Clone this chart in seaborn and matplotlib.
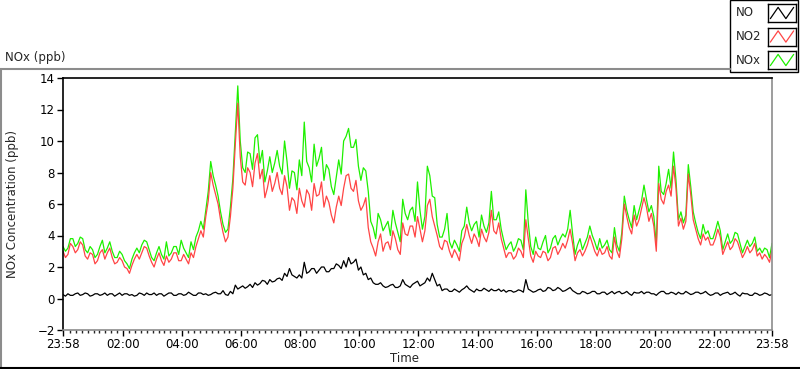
import numpy as np
import pandas as pd
import matplotlib
matplotlib.use("Agg")
import matplotlib.pyplot as plt
from matplotlib.lines import Line2D
from matplotlib.patches import Rectangle
import seaborn as sns

# readings every 5 minutes, starting 23:58
no = [0.25, 0.15, 0.3, 0.2, 0.2, 0.3, 0.35, 0.2, 0.25, 0.35, 0.3, 0.15, 0.2, 0.3, 0.3, 0.2,
      0.25, 0.35, 0.2, 0.3, 0.3, 0.15, 0.25, 0.35, 0.2, 0.3, 0.3, 0.2, 0.25, 0.15, 0.2, 0.35,
      0.3, 0.2, 0.35, 0.25, 0.25, 0.35, 0.2, 0.3, 0.3, 0.15, 0.25, 0.35, 0.35, 0.2, 0.2, 0.3,
      0.3, 0.2, 0.25, 0.4, 0.3, 0.2, 0.2, 0.35, 0.35, 0.25, 0.3, 0.2, 0.25, 0.35, 0.4, 0.3,
      0.3, 0.5, 0.25, 0.2, 0.45, 0.3, 0.85, 0.6, 0.7, 0.8, 0.65, 0.75, 0.9, 0.7, 1.0, 0.85,
      0.95, 1.15, 1.1, 0.9, 1.2, 1.05, 1.1, 1.25, 1.3, 1.15, 1.6, 1.4, 1.9, 1.5, 1.4, 1.3,
      1.5, 1.3, 2.3, 1.6, 1.7, 1.9, 1.9, 1.6, 1.8, 2.0, 2.0, 1.7, 1.7, 1.9, 1.9, 2.2,
      2.1, 1.9, 2.4, 2.0, 2.6, 2.2, 2.3, 2.5, 1.8, 2.0, 1.5, 1.6, 1.2, 1.3, 1.0, 0.9,
      0.9, 1.0, 0.8, 0.7, 0.75, 0.85, 0.9, 0.7, 0.7, 0.8, 1.2, 0.9, 0.8, 0.7, 0.9, 1.0,
      1.1, 0.8, 0.9, 1.0, 1.3, 1.1, 1.6, 1.2, 0.8, 0.9, 0.5, 0.6, 0.6, 0.45, 0.45, 0.6,
      0.5, 0.4, 0.55, 0.65, 0.8, 0.6, 0.5, 0.4, 0.6, 0.5, 0.5, 0.65, 0.55, 0.45, 0.6, 0.5,
      0.5, 0.6, 0.45, 0.55, 0.4, 0.5, 0.5, 0.4, 0.45, 0.55, 0.5, 0.4, 1.2, 0.6, 0.5, 0.4,
      0.45, 0.55, 0.6, 0.45, 0.5, 0.7, 0.65, 0.5, 0.55, 0.7, 0.6, 0.45, 0.5, 0.6, 0.7, 0.5,
      0.4, 0.3, 0.3, 0.45, 0.4, 0.3, 0.35, 0.45, 0.45, 0.3, 0.3, 0.4, 0.4, 0.25, 0.35, 0.45,
      0.3, 0.4, 0.45, 0.3, 0.35, 0.45, 0.3, 0.2, 0.4, 0.35, 0.35, 0.45, 0.3, 0.4, 0.4, 0.3,
      0.3, 0.2, 0.35, 0.45, 0.45, 0.3, 0.3, 0.4, 0.35, 0.25, 0.4, 0.3, 0.3, 0.45, 0.35, 0.25,
      0.3, 0.4, 0.4, 0.3, 0.35, 0.45, 0.3, 0.2, 0.25, 0.35, 0.35, 0.2, 0.3, 0.35, 0.4, 0.25,
      0.3, 0.4, 0.25, 0.15, 0.35, 0.3, 0.3, 0.2, 0.2, 0.35, 0.3, 0.2, 0.25, 0.35, 0.3, 0.2,
      0.25]
no2 = [3.0, 2.6, 2.8, 3.5, 3.3, 2.9, 3.1, 3.6, 3.4, 2.7, 2.5, 2.9, 2.8, 2.2, 2.4, 2.9,
       3.1, 2.5, 2.9, 3.2, 2.6, 2.2, 2.3, 2.6, 2.4, 2.0, 1.9, 1.6, 2.1, 2.5, 2.8, 2.5,
       2.9, 3.3, 3.2, 2.7, 2.3, 2.0, 2.5, 2.9, 2.4, 2.1, 2.7, 2.3, 2.5, 2.9, 2.9, 2.4,
       2.4, 2.8, 2.5, 2.2, 2.9, 2.6, 3.3, 3.8, 4.3, 3.9, 5.2, 6.2, 8.0, 7.2, 6.6, 6.0,
       5.0, 4.2, 3.6, 3.9, 5.2, 7.0, 9.8, 12.4, 9.0, 7.4, 7.2, 8.3, 8.0, 7.1, 8.6, 9.2,
       7.6, 8.2, 6.4, 7.0, 7.8, 6.8, 7.3, 8.0, 7.0, 6.6, 7.8, 7.1, 5.6, 6.4, 6.2, 5.4,
       7.0, 6.2, 5.8, 6.9, 6.6, 5.6, 7.3, 6.5, 6.6, 7.4, 5.8, 6.5, 6.1, 5.3, 4.8, 5.8,
       6.5, 5.9, 7.0, 7.8, 7.9, 7.0, 6.8, 7.5, 6.2, 5.6, 5.9, 6.4, 4.5, 3.6, 3.2, 2.7,
       3.6, 4.1, 3.0, 3.5, 3.6, 3.1, 4.3, 3.8, 3.1, 2.8, 4.8, 4.1, 4.0, 4.6, 4.6, 3.9,
       5.2, 4.4, 3.6, 4.3, 5.9, 6.3, 5.2, 4.6, 4.0, 3.3, 3.1, 3.7, 3.6, 3.0, 2.6, 3.1,
       2.8, 2.4, 3.5, 3.9, 4.7, 4.0, 3.5, 4.1, 3.8, 3.3, 4.4, 3.9, 3.6, 4.2, 5.6, 4.3,
       4.1, 4.8, 3.8, 3.2, 2.6, 2.9, 2.9, 2.5, 2.7, 3.2, 3.0, 2.6, 5.0, 3.8, 2.7, 2.3,
       3.0, 2.7, 2.6, 3.0, 2.9, 2.4, 2.6, 3.2, 3.3, 2.8, 3.1, 3.5, 3.2, 3.7, 4.4, 3.5,
       2.4, 2.9, 3.1, 2.7, 3.0, 3.4, 4.0, 3.5, 3.0, 2.7, 3.2, 2.8, 2.9, 3.3, 2.7, 2.5,
       3.9, 3.0, 2.6, 3.8, 6.0, 5.2, 4.5, 4.1, 5.3, 4.6, 5.0, 5.7, 6.4, 5.8, 4.9, 5.4,
       4.6, 3.0, 7.3, 6.3, 6.0, 6.8, 7.2, 6.5, 8.4, 7.0, 4.6, 5.1, 4.4, 4.9, 7.9, 6.6,
       5.0, 4.4, 3.8, 3.4, 4.1, 3.7, 3.9, 3.4, 3.4, 3.8, 4.4, 3.9, 2.8, 3.2, 3.6, 3.1,
       3.3, 3.8, 3.6, 3.1, 2.6, 2.9, 3.3, 2.9, 3.1, 3.5, 2.7, 2.9, 2.5, 2.8, 2.6, 2.3,
       3.1]
nox = [3.3, 3.0, 3.2, 3.8, 3.8, 3.3, 3.5, 3.9, 3.8, 3.1, 2.9, 3.3, 3.1, 2.6, 2.8, 3.3,
       3.7, 2.9, 3.2, 3.6, 3.0, 2.6, 2.6, 3.0, 2.8, 2.4, 2.2, 1.9, 2.5, 2.9, 3.2, 2.9,
       3.4, 3.7, 3.6, 3.1, 2.6, 2.4, 2.9, 3.3, 2.8, 2.5, 3.6, 2.7, 2.9, 3.3, 3.3, 2.8,
       3.7, 3.2, 2.9, 2.6, 3.6, 3.1, 3.9, 4.3, 4.9, 4.4, 5.6, 6.8, 8.7, 7.8, 7.2, 6.5,
       5.5, 4.7, 4.2, 4.4, 5.8, 7.6, 10.6, 13.5, 10.0, 8.3, 8.0, 9.3, 9.2, 8.2, 10.2, 10.4,
       8.6, 9.4, 7.4, 8.1, 9.0, 8.0, 8.6, 9.4, 8.4, 7.9, 10.0, 8.7, 7.0, 8.1, 8.0, 6.9,
       8.8, 7.8, 11.2, 8.7, 8.3, 7.4, 9.8, 8.4, 8.9, 9.6, 7.5, 8.5, 8.2, 7.1, 6.6, 7.7,
       8.8, 7.9, 10.0, 10.3, 10.8, 9.6, 9.6, 10.1, 8.4, 7.5, 8.3, 8.1, 6.8, 4.9, 4.5, 3.8,
       5.4, 5.0, 4.3, 4.6, 4.9, 4.0, 5.6, 4.8, 4.2, 3.6, 6.3, 5.4, 5.0, 5.6, 5.8, 4.9,
       7.4, 5.6, 4.4, 5.2, 8.4, 7.8, 6.5, 6.4, 4.7, 3.9, 3.9, 4.4, 5.4, 3.6, 3.2, 3.7,
       3.4, 3.0, 4.3, 4.6, 5.8, 4.8, 4.3, 4.7, 4.9, 3.9, 5.3, 4.6, 4.2, 4.8, 6.8, 5.0,
       5.0, 5.5, 4.4, 3.7, 3.1, 3.4, 3.6, 3.0, 3.3, 3.8, 3.7, 3.1, 6.9, 4.8, 3.3, 2.8,
       3.9, 3.2, 3.1, 3.6, 4.0, 2.9, 3.2, 3.8, 4.0, 3.4, 3.8, 4.1, 3.9, 4.4, 5.6, 4.1,
       2.8, 3.4, 3.8, 3.1, 3.5, 3.9, 4.6, 4.0, 3.6, 3.1, 3.8, 3.2, 3.4, 3.7, 3.1, 2.9,
       4.5, 3.4, 3.0, 4.2, 6.5, 5.6, 5.0, 4.5, 5.9, 5.0, 5.6, 6.2, 7.2, 6.3, 5.5, 5.9,
       5.2, 3.4, 8.4, 6.8, 6.6, 7.3, 8.2, 7.0, 9.3, 7.5, 5.0, 5.5, 4.8, 5.3, 8.5, 7.1,
       5.5, 4.8, 4.2, 3.8, 4.7, 4.1, 4.3, 3.8, 3.8, 4.3, 4.9, 4.3, 3.1, 3.6, 4.1, 3.5,
       3.7, 4.2, 4.1, 3.5, 2.9, 3.3, 3.7, 3.3, 3.5, 3.9, 3.0, 3.2, 2.9, 3.2, 3.1, 2.6,
       3.5]

tick_labels = ["23:58", "02:00", "04:00", "06:00", "08:00", "10:00", "12:00",
               "14:00", "16:00", "18:00", "20:00", "22:00", "23:58"]

hours = np.arange(len(no2)) / 12.0
df = pd.DataFrame({"t": hours, "NO": no, "NO2": no2, "NOx": nox})

sns.set_style("white")
plt.rcParams["font.family"] = ["DejaVu Sans"]

fig = plt.figure(figsize=(8, 3.69), dpi=100)
ax = fig.add_axes([63 / 800, 1 - 330 / 369, 709 / 800, 252 / 369])

sns.lineplot(data=df, x="t", y="NOx", color="#1ef000", lw=0.9, ax=ax)
sns.lineplot(data=df, x="t", y="NO2", color="#ff4545", lw=0.9, ax=ax)
sns.lineplot(data=df, x="t", y="NO", color="black", lw=0.9, ax=ax)

ax.set_xlim(0, 24)
ax.set_ylim(-2, 14)
ax.set_yticks(range(-2, 15, 2))

pos = [0.0]
for lab in tick_labels[1:-1]:
    hh, mm = lab.split(":")
    pos.append((int(hh) * 60 + int(mm) + 2) / 60)
pos.append(24.0)
ax.set_xticks(pos)
ax.set_xticklabels(tick_labels)
ax.set_xticks(np.arange(1, 120) * 0.2 + 1 / 30, minor=True)
ax.tick_params(axis="both", which="major", direction="out", length=4, width=1,
               labelsize=8.5, colors="black", pad=2)
ax.tick_params(axis="x", which="minor", direction="out", length=2, width=1)
ax.tick_params(axis="x", which="both", bottom=True)
ax.tick_params(axis="y", left=True)

for side in ["top", "left"]:
    ax.spines[side].set_color("black")
    ax.spines[side].set_linewidth(1.2)
for side in ["right", "bottom"]:
    ax.spines[side].set_color("#8c8c8c")
    ax.spines[side].set_linewidth(1.2)

ax.set_xlabel("")
ax.set_ylabel("NOx Concentration (ppb)", fontsize=8.5)
ax.yaxis.set_label_coords(-0.0625, 0.5)
fig.text(404 / 800, 1 - 359 / 369, "Time", fontsize=8.5, va="center", ha="center")

# outer frame and title
fig.text(5 / 800, 1 - 58 / 369, "NOx (ppb)", fontsize=8.5, va="center", ha="left")
fig.add_artist(Line2D([0, 730 / 800], [1 - 69 / 369] * 2, color="#8c8c8c", lw=1.5))
fig.add_artist(Line2D([0.5 / 800] * 2, [1 - 69 / 369, 0], color="#8c8c8c", lw=1.5))
fig.add_artist(Line2D([0, 1], [0.6 / 369] * 2, color="black", lw=1.5))

# legend panel
fig.add_artist(Rectangle((730 / 800, 1 - 72 / 369), 68 / 800, 72 / 369, transform=fig.transFigure,
                         facecolor="white", edgecolor="black", lw=1, zorder=0.5))
names = ["NO", "NO2", "NOx"]
cols = ["black", "#ff4545", "#1ef000"]
for k, (nm, c) in enumerate(zip(names, cols)):
    yc = 13 + k * 23.5
    fig.text(736 / 800, 1 - yc / 369, nm, fontsize=8.5, va="center", ha="left")
    sw = fig.add_axes([768 / 800, 1 - (yc + 9) / 369, 28 / 800, 18 / 369])
    sw.set_zorder(5)
    sw.plot([0, 1, 2, 3], [0, 1, 0, 1], color=c, lw=0.9)
    sw.set_xlim(-0.3, 3.3)
    sw.set_ylim(-0.3, 1.3)
    sw.set_xticks([])
    sw.set_yticks([])
    for s in sw.spines.values():
        s.set_color("black")
        s.set_linewidth(1)

fig.savefig("out.png", dpi=100)
